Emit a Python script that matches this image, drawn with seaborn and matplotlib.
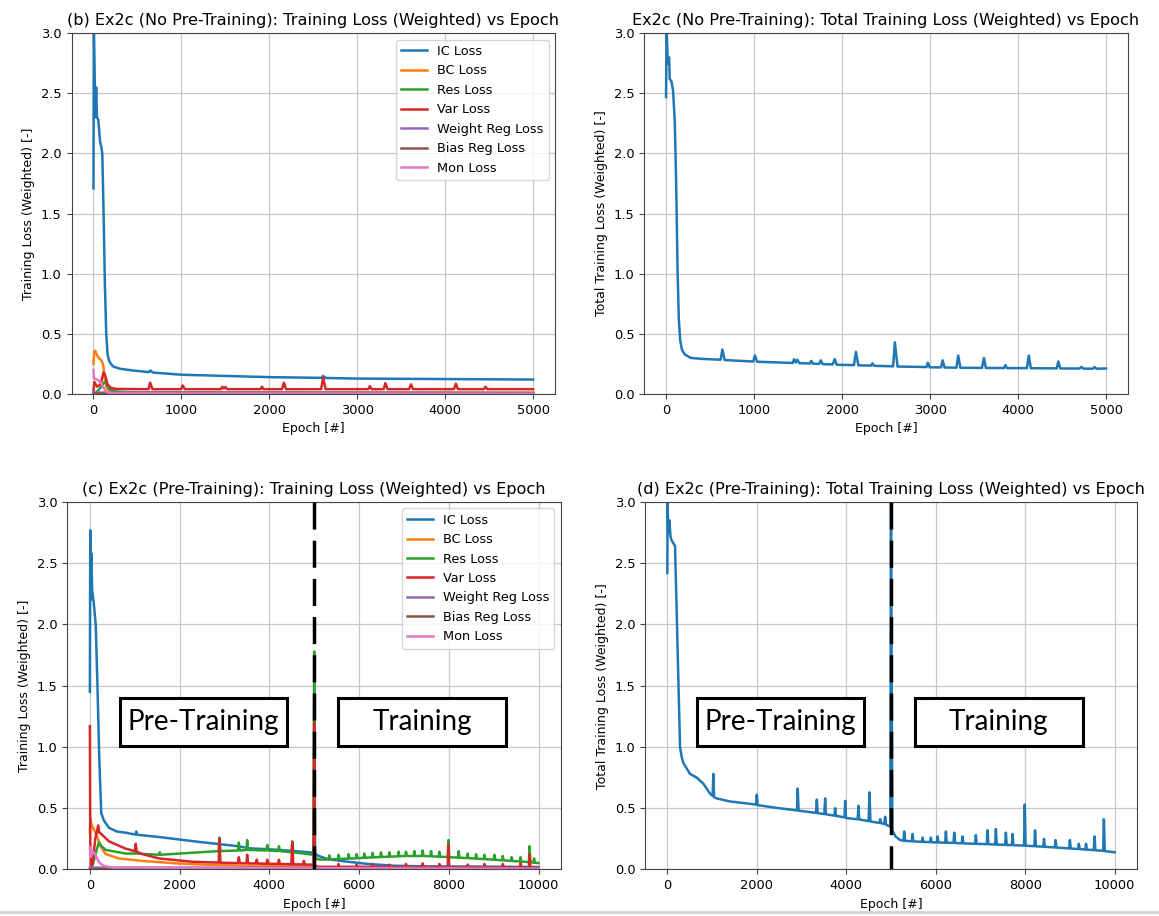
import matplotlib
matplotlib.use("Agg")
import matplotlib.pyplot as plt
from matplotlib.patches import Rectangle
from matplotlib.lines import Line2D
import seaborn as sns
import pandas as pd

# ---------------- loss histories (epoch, weighted loss) ----------------
# Ex2c without pre-training: individual loss terms
b_ic = [(0,1.71),(4,3.05),(12,2.72),(22,2.30),(30,2.55),(40,2.30),(55,2.28),(75,2.10),(90,2.05),(100,2.00),
        (115,1.50),(130,0.90),(145,0.50),(160,0.33),(180,0.27),(220,0.23),(300,0.21),(450,0.195),(630,0.182),
        (648,0.195),(675,0.178),(1000,0.160),(1500,0.150),(2000,0.140),(2595,0.134),(2612,0.150),(2640,0.133),
        (3000,0.128),(3500,0.126),(4000,0.124),(4500,0.122),(5000,0.120)]
b_bc = [(0,0.25),(8,0.35),(20,0.36),(35,0.33),(60,0.30),(90,0.28),(110,0.24),(130,0.12),(150,0.05),(180,0.025),
        (300,0.015),(5000,0.010)]
b_res = [(0,0.00),(40,0.02),(90,0.06),(125,0.10),(150,0.08),(180,0.04),(250,0.02),(500,0.012),(5000,0.008)]
b_var = [(0,0.03),(10,0.10),(40,0.06),(80,0.08),(115,0.18),(135,0.15),(160,0.08),(200,0.05),(260,0.042),
         (625,0.040),(644,0.095),(670,0.040),(995,0.040),(1015,0.070),(1040,0.040),(1450,0.040),(1465,0.060),
         (1480,0.045),(1500,0.058),(1520,0.040),(1900,0.040),(1916,0.060),(1935,0.040),(2145,0.040),(2165,0.094),
         (2190,0.040),(2590,0.040),(2612,0.138),(2640,0.040),(3125,0.040),(3143,0.065),(3165,0.040),(3300,0.040),
         (3320,0.090),(3345,0.040),(3590,0.040),(3612,0.080),(3635,0.040),(4100,0.040),(4122,0.085),(4145,0.040),
         (4440,0.040),(4458,0.060),(4480,0.040),(5000,0.040)]
b_weight = [(0,0.012),(5000,0.008)]
b_bias = [(0,0.004),(5000,0.003)]
b_mon = [(0,0.20),(5,0.13),(40,0.12),(80,0.10),(110,0.06),(140,0.02),(200,0.005),(5000,0.002)]

# Ex2c without pre-training: total loss
b_total = [(0,2.47),(6,3.05),(19,2.75),(34,2.80),(42,2.62),(61,2.60),(80,2.52),(100,2.25),(115,1.75),(130,1.05),
           (145,0.62),(160,0.45),(180,0.37),(210,0.33),(280,0.30),(400,0.292),(620,0.285),(640,0.37),(665,0.282),
           (990,0.270),(1010,0.32),(1035,0.268),(1440,0.258),(1455,0.29),(1475,0.262),(1492,0.285),(1515,0.256),
           (1635,0.254),(1650,0.275),(1670,0.252),(1740,0.250),(1758,0.280),(1780,0.248),(1895,0.246),(1916,0.290),
           (1940,0.243),(2135,0.240),(2158,0.350),(2185,0.238),(2330,0.236),(2345,0.255),(2365,0.234),(2580,0.230),
           (2600,0.430),(2630,0.228),(2960,0.224),(2975,0.260),(2995,0.222),(3125,0.221),(3143,0.280),(3165,0.220),
           (3300,0.219),(3320,0.320),(3345,0.218),(3590,0.217),(3612,0.300),(3635,0.216),(3840,0.216),(3857,0.240),
           (3875,0.215),(4100,0.215),(4122,0.320),(4145,0.214),(4440,0.213),(4458,0.270),(4480,0.212),(4700,0.212),
           (4720,0.225),(4740,0.211),(4850,0.210),(4870,0.225),(4890,0.210),(5000,0.212)]

# Ex2c with pre-training (epochs 0-5000) followed by training: individual loss terms
c_ic = [(0,1.45),(8,2.77),(20,2.20),(35,2.58),(50,2.28),(85,2.18),(130,2.00),(165,1.55),(210,0.90),(253,0.46),
        (312,0.40),(424,0.34),(600,0.31),(796,0.30),(1015,0.285),(1034,0.31),(1060,0.283),(1540,0.265),
        (2433,0.225),(3300,0.19),(3550,0.173),(4200,0.16),(4900,0.14),(5000,0.135),(5100,0.11),(5300,0.085),
        (5700,0.065),(6200,0.045),(6800,0.030),(7500,0.025),(10000,0.020)]
c_bc = [(0,0.30),(10,0.42),(40,0.36),(127,0.30),(238,0.19),(350,0.126),(648,0.09),(1165,0.07),(1910,0.05),
        (2500,0.04),(3500,0.03),(5000,0.025),(5100,0.015),(10000,0.010)]
c_res = [(0,0.00),(60,0.03),(120,0.12),(200,0.22),(260,0.19),(350,0.16),(800,0.13),(1005,0.13),(1020,0.16),
         (1040,0.13),(1540,0.12),(1557,0.14),(1575,0.12),(2000,0.13),(2870,0.15),(2888,0.26),(2910,0.15),
         (3300,0.155),(3320,0.22),(3340,0.155),(3490,0.16),(3506,0.24),(3525,0.16),(3935,0.155),(3953,0.20),
         (3975,0.155),(4195,0.15),(4214,0.19),(4235,0.15),(4490,0.14),(4512,0.23),(4535,0.14),(4980,0.12),
         (5000,1.78),(5020,0.10),(5080,0.083),(5200,0.080),(5320,0.082),(5335,0.115),(5355,0.083),(5528,0.085),
         (5543,0.12),(5560,0.086),(5750,0.088),(5766,0.125),(5785,0.089),(5930,0.091),(5945,0.125),(5965,0.092),
         (6100,0.095),(6116,0.13),(6135,0.096),(6286,0.098),(6302,0.135),(6320,0.099),(6472,0.101),(6488,0.14),
         (6505,0.102),(6658,0.104),(6674,0.14),(6692,0.105),(6866,0.107),(6882,0.145),(6900,0.108),(7030,0.109),
         (7046,0.145),(7065,0.110),(7216,0.110),(7232,0.15),(7250,0.110),(7402,0.110),(7418,0.155),(7435,0.110),
         (7588,0.108),(7604,0.15),(7620,0.107),(7774,0.105),(7790,0.145),(7808,0.104),(7975,0.102),(7991,0.24),
         (8010,0.100),(8205,0.097),(8221,0.15),(8240,0.096),(8406,0.093),(8422,0.13),(8440,0.092),(8593,0.089),
         (8609,0.125),(8628,0.088),(8779,0.085),(8795,0.12),(8812,0.084),(9002,0.080),(9018,0.12),(9035,0.079),
         (9188,0.075),(9204,0.11),(9222,0.074),(9385,0.070),(9400,0.10),(9420,0.069),(9585,0.065),(9600,0.10),
         (9620,0.064),(9785,0.060),(9800,0.19),(9820,0.058),(9885,0.056),(9900,0.09),(9920,0.055),(10000,0.052)]
c_var = [(0,1.17),(8,0.25),(20,0.02),(60,0.05),(120,0.25),(186,0.36),(210,0.30),(238,0.295),(424,0.23),
         (796,0.17),(1005,0.15),(1020,0.21),(1045,0.145),(1165,0.126),(1540,0.09),(2284,0.063),(2870,0.056),
         (2888,0.25),(2910,0.055),(3300,0.052),(3320,0.10),(3340,0.052),(3490,0.050),(3506,0.12),(3525,0.050),
         (3700,0.049),(3720,0.08),(3740,0.048),(3935,0.047),(3953,0.08),(3975,0.047),(4195,0.045),(4214,0.08),
         (4235,0.045),(4490,0.043),(4512,0.22),(4535,0.042),(4750,0.041),(4770,0.07),(4790,0.040),(4985,0.040),
         (5000,1.20),(5015,0.03),(5100,0.022),(5528,0.022),(5543,0.045),(5560,0.022),(5930,0.022),(5945,0.04),
         (5965,0.022),(6286,0.022),(6302,0.045),(6320,0.022),(6658,0.021),(6674,0.04),(6692,0.021),(7030,0.021),
         (7046,0.045),(7065,0.021),(7402,0.021),(7418,0.05),(7435,0.021),(7774,0.020),(7790,0.045),(7808,0.020),
         (7975,0.020),(7991,0.20),(8010,0.020),(8406,0.020),(8422,0.04),(8440,0.020),(8779,0.019),(8795,0.045),
         (8812,0.019),(9188,0.019),(9204,0.045),(9222,0.019),(9585,0.018),(9600,0.05),(9620,0.018),(9785,0.018),
         (9800,0.12),(9820,0.018),(10000,0.018)]
c_weight = [(0,0.015),(10000,0.012)]
c_bias = [(0,0.005),(10000,0.004)]
c_mon = [(0,0.18),(20,0.10),(60,0.15),(120,0.12),(200,0.06),(300,0.03),(500,0.015),(10000,0.005)]

# Ex2c with pre-training: total loss
d_total = [(0,2.42),(5,3.05),(20,2.75),(45,2.85),(70,2.72),(90,2.69),(172,2.64),(209,2.10),(246,1.55),(284,1.00),
           (320,0.92),(358,0.87),(507,0.78),(656,0.75),(805,0.70),(954,0.62),(1012,0.60),(1029,0.78),(1045,0.59),
           (1103,0.58),(1402,0.555),(1985,0.53),(2000,0.61),(2020,0.525),(2500,0.50),(2900,0.482),(2915,0.66),
           (2935,0.48),(3325,0.462),(3342,0.57),(3360,0.46),(3510,0.452),(3528,0.58),(3545,0.45),(3735,0.44),
           (3752,0.50),(3770,0.438),(3960,0.425),(3976,0.56),(3995,0.42),(4255,0.41),(4273,0.52),(4290,0.408),
           (4500,0.395),(4519,0.63),(4540,0.392),(4740,0.38),(4758,0.41),(4775,0.378),(4850,0.372),(4870,0.43),
           (4890,0.365),(4985,0.35),(5000,3.05),(5030,0.32),(5100,0.27),(5206,0.24),(5280,0.235),(5296,0.31),
           (5315,0.234),(5466,0.23),(5482,0.29),(5500,0.229),(5690,0.226),(5706,0.26),(5725,0.225),(5876,0.223),
           (5892,0.26),(5910,0.222),(6025,0.221),(6041,0.27),(6060,0.220),(6212,0.219),(6228,0.31),(6245,0.218),
           (6398,0.217),(6414,0.30),(6432,0.216),(6584,0.214),(6600,0.27),(6618,0.213),(6882,0.210),(6898,0.28),
           (6915,0.209),(7143,0.207),(7159,0.32),(7178,0.206),(7330,0.204),(7345,0.33),(7365,0.203),(7553,0.201),
           (7569,0.30),(7588,0.200),(7702,0.199),(7718,0.29),(7736,0.198),(7975,0.195),(7991,0.53),(8010,0.194),
           (8205,0.190),(8221,0.32),(8240,0.189),(8406,0.186),(8422,0.25),(8440,0.185),(8665,0.180),(8680,0.24),
           (8700,0.179),(8985,0.172),(9000,0.24),(9020,0.171),(9185,0.167),(9200,0.21),(9220,0.166),(9345,0.163),
           (9360,0.21),(9380,0.162),(9535,0.158),(9550,0.27),(9570,0.157),(9745,0.152),(9760,0.41),(9780,0.150),
           (10000,0.14)]

loss_names = ["IC Loss", "BC Loss", "Res Loss", "Var Loss", "Weight Reg Loss", "Bias Reg Loss", "Mon Loss"]
pretrain_end = 5000

# ---------------- figure ----------------
TICK_FS = 9.4
LABEL_FS = 9.0
LEGEND_FS = 9.3
TITLE_FS = 11.6
plt.rcParams["font.family"] = ["DejaVu Sans"]

palette = sns.color_palette("tab10")
fig = plt.figure(figsize=(11.59, 9.16), dpi=100)
fig.patch.set_facecolor("white")

ax_b = fig.add_axes([0.0617, 0.5699, 0.4172, 0.3938])
ax_tot = fig.add_axes([0.5557, 0.5699, 0.4176, 0.3938])
ax_c = fig.add_axes([0.0582, 0.0508, 0.4258, 0.4012])
ax_d = fig.add_axes([0.5565, 0.0508, 0.4245, 0.4012])


def draw_series(ax, pts, color, label=None):
    df = pd.DataFrame(pts, columns=["epoch", "loss"])
    sns.lineplot(data=df, x="epoch", y="loss", ax=ax, color=color, label=label,
                 linewidth=1.8, estimator=None, sort=False)


def style_axes(ax, title, ylabel):
    ax.set_ylim(0, 3.0)
    ax.grid(True, color="#c8c8c8", linewidth=0.9)
    ax.set_axisbelow(True)
    ax.set_title(title, fontsize=TITLE_FS)
    ax.set_ylabel(ylabel, fontsize=LABEL_FS)
    ax.set_xlabel("Epoch [#]", fontsize=LABEL_FS)
    ax.tick_params(labelsize=TICK_FS, color="#444444")
    for sp in ax.spines.values():
        sp.set_color("#444444")


def phase_boxes(ax, boxes):
    for (x0, x1, label) in boxes:
        ax.add_patch(Rectangle((x0, 1.01), x1 - x0, 0.39, facecolor="white",
                               edgecolor="black", linewidth=2.2, zorder=6))
        ax.text((x0 + x1) / 2, 1.205, label, ha="center", va="center",
                fontsize=20, family=["Lato", "DejaVu Sans"], zorder=7)


# (b) individual terms, no pre-training
for pts, name, col in zip([b_ic, b_bc, b_res, b_var, b_weight, b_bias, b_mon], loss_names, palette):
    draw_series(ax_b, pts, col, name)
style_axes(ax_b, "(b) Ex2c (No Pre-Training): Training Loss (Weighted) vs Epoch",
           "Training Loss (Weighted) [-]")
ax_b.legend(loc="upper right", fontsize=LEGEND_FS)

# total, no pre-training
draw_series(ax_tot, b_total, palette[0])
style_axes(ax_tot, "Ex2c (No Pre-Training): Total Training Loss (Weighted) vs Epoch",
           "Total Training Loss (Weighted) [-]")

# (c) individual terms, with pre-training
for pts, name, col in zip([c_ic, c_bc, c_res, c_var, c_weight, c_bias, c_mon], loss_names, palette):
    draw_series(ax_c, pts, col, name)
style_axes(ax_c, "(c) Ex2c (Pre-Training): Training Loss (Weighted) vs Epoch",
           "Training Loss (Weighted) [-]")
ax_c.legend(loc="upper right", fontsize=LEGEND_FS)

# (d) total, with pre-training
draw_series(ax_d, d_total, palette[0])
style_axes(ax_d, "(d) Ex2c (Pre-Training): Total Training Loss (Weighted) vs Epoch",
           "Total Training Loss (Weighted) [-]")

for ax in (ax_c, ax_d):
    ax.vlines(pretrain_end, 3.0, 0.0, colors="black", linestyles=(0, (7.8, 3.2)),
              linewidth=2.5, zorder=5)
    phase_boxes(ax, [(670, 4397, "Pre-Training"), (5536, 9286, "Training")])
    ax.set_ylim(0, 3.0)

for ax in (ax_b, ax_tot):
    ax.set_xlim(-250, 5250)
for ax in (ax_c, ax_d):
    ax.set_xlim(-500, 10500)

fig.add_artist(Line2D([0, 1], [0.004, 0.004], transform=fig.transFigure,
                      color="#d4d4d4", linewidth=2))

fig.savefig("out.png", dpi=100, facecolor="white")
